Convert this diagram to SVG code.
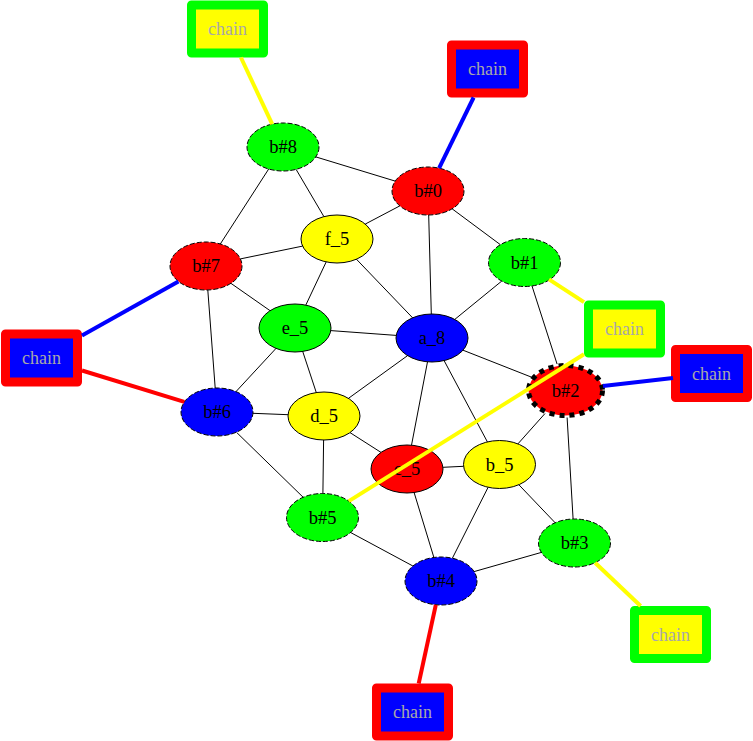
<svg xmlns="http://www.w3.org/2000/svg" width="753" height="741" viewBox="0 0 753 741">
<style>
.n ellipse{stroke:#000;stroke-width:1}
.d ellipse{stroke-dasharray:5,2}
.lbl{font-family:"Liberation Serif","Times New Roman",serif;font-size:18.5px;text-anchor:middle;fill:#000}
.ch rect{stroke-width:9;stroke-linejoin:round}
.ch text{font-family:"Liberation Serif","Times New Roman",serif;font-size:18px;text-anchor:middle;fill:#a8a8a8}
.cg rect{fill:#ffff00;stroke:#00ff00}
.cr rect{fill:#0000ff;stroke:#ff0000}
#edges line{stroke:#000;stroke-width:1}
#edges .y{stroke:#ffff00;stroke-width:4}
#edges .b{stroke:#0000ff;stroke-width:4}
#edges .r{stroke:#ff0000;stroke-width:4}
</style>
<rect width="753" height="741" fill="#fff"/>
<g id="chain1" class="ch cg"><rect x="191.5" y="5" width="72" height="48"/><text x="227.5" y="35">chain</text></g>
<g id="chain2" class="ch cr"><rect x="451.5" y="45" width="72" height="48"/><text x="487.5" y="75">chain</text></g>
<g id="chain3" class="ch cr"><rect x="5.5" y="334" width="72" height="48"/><text x="41.5" y="364">chain</text></g>
<g id="chain4" class="ch cg"><rect x="588.5" y="305" width="72" height="48"/><text x="624.5" y="335">chain</text></g>
<g id="chain5" class="ch cr"><rect x="675.5" y="349.5" width="72" height="48"/><text x="711.5" y="379.5">chain</text></g>
<g id="chain6" class="ch cg"><rect x="634.5" y="610.5" width="72" height="48"/><text x="670.5" y="640.5">chain</text></g>
<g id="chain7" class="ch cr"><rect x="376.5" y="688" width="72" height="48"/><text x="412.5" y="718">chain</text></g>
<g id="b8" class="n d"><ellipse cx="283" cy="147" rx="36" ry="24" fill="#00ff00"/><text class="lbl" x="283" y="153">b#8</text></g>
<g id="b0" class="n d"><ellipse cx="428" cy="191" rx="36" ry="24" fill="#ff0000"/><text class="lbl" x="428" y="197">b#0</text></g>
<g id="f5" class="n"><ellipse cx="337" cy="239" rx="36" ry="24" fill="#ffff00"/><text class="lbl" x="337" y="245">f_5</text></g>
<g id="b7" class="n d"><ellipse cx="206" cy="266" rx="36" ry="24" fill="#ff0000"/><text class="lbl" x="206" y="272">b#7</text></g>
<g id="b1" class="n d"><ellipse cx="524.5" cy="262.5" rx="36" ry="24" fill="#00ff00"/><text class="lbl" x="524.5" y="268.5">b#1</text></g>
<g id="e5" class="n"><ellipse cx="295" cy="328" rx="36" ry="24" fill="#00ff00"/><text class="lbl" x="295" y="334">e_5</text></g>
<g id="a8" class="n"><ellipse cx="432" cy="338" rx="36" ry="24" fill="#0000ff"/><text class="lbl" x="432" y="344">a_8</text></g>
<g id="b2" class="n"><ellipse cx="565.5" cy="390.5" rx="37" ry="25" fill="#ff0000" style="stroke-width:5;stroke-dasharray:5,5"/><text class="lbl" x="565.5" y="396.5">b#2</text></g>
<g id="b6" class="n d"><ellipse cx="217" cy="412" rx="36" ry="24" fill="#0000ff"/><text class="lbl" x="217" y="418">b#6</text></g>
<g id="d5" class="n"><ellipse cx="324" cy="416" rx="36" ry="24" fill="#ffff00"/><text class="lbl" x="324" y="422">d_5</text></g>
<g id="c5" class="n"><ellipse cx="407" cy="469" rx="36" ry="24" fill="#ff0000"/><text class="lbl" x="407" y="475">c_5</text></g>
<g id="b_5" class="n"><ellipse cx="499.5" cy="464.5" rx="36" ry="24" fill="#ffff00"/><text class="lbl" x="499.5" y="470.5">b_5</text></g>
<g id="b5" class="n d"><ellipse cx="322.5" cy="517.5" rx="36" ry="24" fill="#00ff00"/><text class="lbl" x="322.5" y="523.5">b#5</text></g>
<g id="b4" class="n d"><ellipse cx="441" cy="581" rx="36" ry="24" fill="#0000ff"/><text class="lbl" x="441" y="587">b#4</text></g>
<g id="b3" class="n d"><ellipse cx="574.5" cy="543" rx="36" ry="24" fill="#00ff00"/><text class="lbl" x="574.5" y="549">b#3</text></g>
<g id="edges">
<line x1="315.8" y1="156.9" x2="395.2" y2="181.1"/>
<line x1="268.7" y1="169" x2="220.3" y2="244"/>
<line x1="296.1" y1="169.4" x2="323.9" y2="216.6"/>
<line x1="399.8" y1="205.9" x2="365.2" y2="224.1"/>
<line x1="428.7" y1="215" x2="431.3" y2="314"/>
<line x1="452.1" y1="208.8" x2="500.4" y2="244.7"/>
<line x1="302.6" y1="246.1" x2="240.4" y2="258.9"/>
<line x1="326.2" y1="261.9" x2="305.8" y2="305.1"/>
<line x1="356.4" y1="259.2" x2="412.6" y2="317.8"/>
<line x1="230.9" y1="283.3" x2="270.1" y2="310.7"/>
<line x1="207.8" y1="290" x2="215.2" y2="388"/>
<line x1="501.7" y1="281.1" x2="454.8" y2="319.4"/>
<line x1="532" y1="286" x2="557.1" y2="364.1"/>
<line x1="330.8" y1="330.6" x2="396.2" y2="335.4"/>
<line x1="276" y1="348.4" x2="236" y2="391.6"/>
<line x1="302.7" y1="351.4" x2="316.3" y2="392.6"/>
<line x1="463" y1="350.2" x2="531.6" y2="377.2"/>
<line x1="407.6" y1="355.6" x2="348.4" y2="398.4"/>
<line x1="427.5" y1="361.8" x2="411.5" y2="445.2"/>
<line x1="444.1" y1="360.6" x2="487.4" y2="441.9"/>
<line x1="253" y1="413.3" x2="288" y2="414.7"/>
<line x1="236.6" y1="432.4" x2="303.2" y2="497.3"/>
<line x1="350" y1="432.6" x2="381" y2="452.4"/>
<line x1="323.6" y1="440" x2="322.9" y2="493.5"/>
<line x1="443" y1="467.3" x2="463.5" y2="466.3"/>
<line x1="414.1" y1="492.5" x2="433.9" y2="557.5"/>
<line x1="517.9" y1="443.9" x2="545" y2="413.5"/>
<line x1="488.1" y1="487.3" x2="452.4" y2="558.2"/>
<line x1="518.8" y1="484.7" x2="555.2" y2="522.8"/>
<line x1="567.1" y1="417.5" x2="573.1" y2="519"/>
<line x1="350.6" y1="532.5" x2="412.9" y2="566"/>
<line x1="474.1" y1="571.6" x2="541.4" y2="552.4"/>
<line class="y" x1="240.9" y1="57.5" x2="272.2" y2="124.1"/>
<line class="b" x1="473.6" y1="97.5" x2="439.1" y2="168.2"/>
<line class="b" x1="82" y1="335.4" x2="178.4" y2="281.4"/>
<line class="r" x1="82" y1="370.5" x2="184.3" y2="401.9"/>
<line class="y" x1="584" y1="302.1" x2="549" y2="279.4"/>
<line class="y" x1="584" y1="354.3" x2="348.8" y2="501.1"/>
<line class="b" x1="673" y1="378" x2="603" y2="386"/>
<line class="y" x1="640.6" y1="606" x2="595.1" y2="562.7"/>
<line class="r" x1="418.7" y1="683.5" x2="435.8" y2="604.8"/>
</g>
</svg>
